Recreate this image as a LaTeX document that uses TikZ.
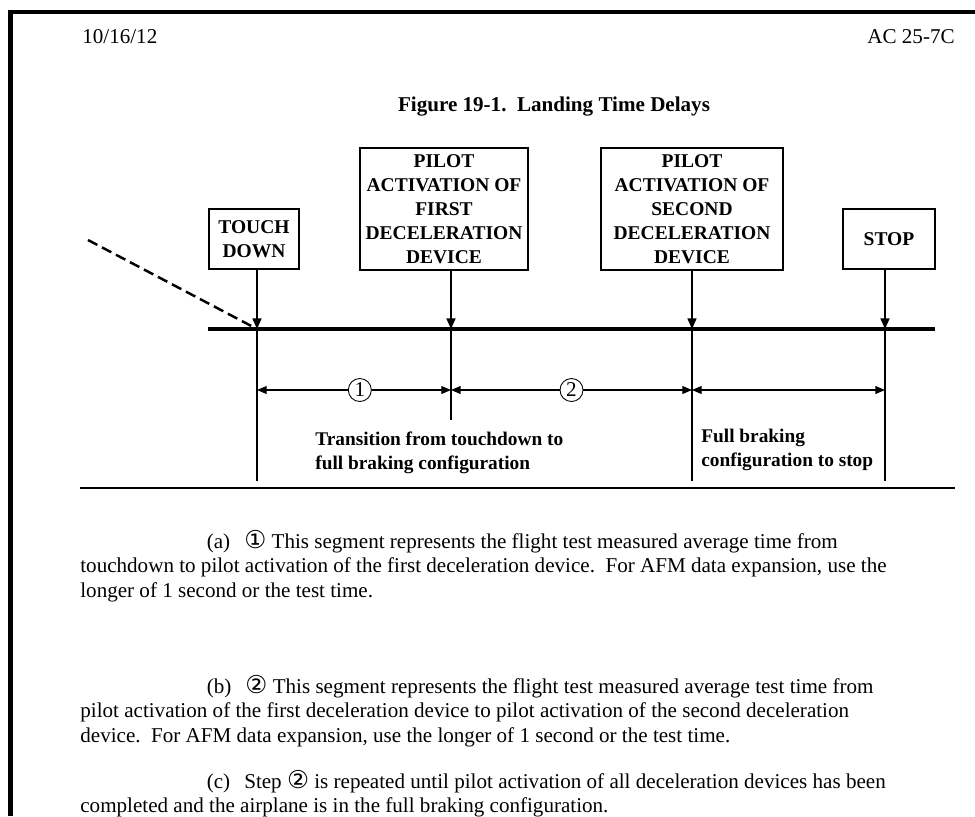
\documentclass[tikz,border=0pt]{standalone}
\usepackage{fontspec}
\setmainfont{Liberation Serif}
\newfontfamily\circfont{DejaVu Sans}
\usetikzlibrary{arrows.meta, positioning}

\newcommand{\circnum}[1]{\smash{\circfont\fontsize{14}{14}\selectfont #1}}

\tikzset{
  evtbox/.style={draw, line width=0.6pt, align=center, inner sep=0pt,
    font=\fontsize{11.1}{13.6}\selectfont\bfseries},
  droparrow/.style={line width=1.1pt, -{Triangle[length=6pt,width=5pt]}},
  dimline/.style={line width=0.6pt, {Triangle[length=5.5pt,width=4.5pt]}-{Triangle[length=5.5pt,width=4.5pt]}},
  numcirc/.style={circle, draw, line width=0.5pt, fill=white, inner sep=0pt,
    minimum size=0.46cm, font=\fontsize{12}{14}\selectfont},
  note/.style={align=left, inner sep=0pt, font=\fontsize{11}{13.6}\selectfont\bfseries},
  para/.style={align=left, inner sep=0pt, font=\fontsize{12}{14}\selectfont},
}

\begin{document}
\begin{tikzpicture}[x=0.02cm, y=-0.02cm]
  \useasboundingbox (0,0) rectangle (975,816);
  % page border
  \fill (8,10) rectangle (975,14);
  \fill (8,10) rectangle (13,816);

  % header and title
  \node[para, anchor=west] (date) at (82,37) {10/16/12};
  \node[para, anchor=east] (acnum) at (955,37) {AC 25-7C};
  \node[font=\fontsize{12}{14}\selectfont\bfseries] (title) at (554,107)
    {Figure 19-1.\ \ Landing Time Delays};

  % events
  \node[evtbox, minimum width=1.8cm, minimum height=1.2cm] (td) at (254,239) {TOUCH\\DOWN};
  \node[evtbox, minimum width=3.36cm, minimum height=2.44cm] (first) at (444,209)
    {PILOT\\ACTIVATION OF\\FIRST\\DECELERATION\\DEVICE};
  \node[evtbox, minimum width=3.64cm, minimum height=2.44cm] (second) at (692,209)
    {PILOT\\ACTIVATION OF\\SECOND\\DECELERATION\\DEVICE};
  \node[evtbox, minimum width=1.84cm, minimum height=1.2cm] (stop) at (889,239) {STOP};

  % time line
  \coordinate (lstart) at (208,329);
  \coordinate (lend) at (935,329);
  \coordinate (t1) at (257,329);
  \coordinate (t2) at (451,329);
  \coordinate (t3) at (692,329);
  \coordinate (t4) at (885,329);
  \coordinate (app) at (88,240);
  \draw[line width=2pt] (lstart) -- (lend);
  \draw[line width=1.4pt, dash pattern=on 6pt off 3pt] (app) -- (t1);
  \foreach \b/\t in {td/t1, first/t2, second/t3, stop/t4}
    \draw[droparrow] (\t |- \b.south) -- (\t);

  % drop lines
  \coordinate (b1) at (257,481);
  \coordinate (b2) at (451,420);
  \coordinate (b3) at (692,481);
  \coordinate (b4) at (885,481);
  \draw[line width=1.1pt] (t1) -- (b1);
  \draw[line width=0.7pt] (t2) -- (b2);
  \draw[line width=1.1pt] (t3) -- (b3);
  \draw[line width=1.1pt] (t4) -- (b4);

  % time segments
  \coordinate (d1) at (257,390);
  \coordinate (d2) at (451,390);
  \coordinate (d3) at (692,390);
  \coordinate (d4) at (885,390);
  \draw[dimline] (d1) -- node[numcirc, pos=0.53] (n1) {1} (d2);
  \draw[dimline] (d2) -- node[numcirc, pos=0.5] (n2) {2} (d3);
  \draw[dimline] (d3) -- (d4);

  \node[note, anchor=north west] (trans) at (315,432)
    {Transition from touchdown to\\full braking configuration};
  \node[note, anchor=north west] (brake) at (701,429)
    {Full braking\\configuration to stop};

  % separator
  \coordinate (sl) at (80,488);
  \coordinate (sr) at (955,488);
  \draw[line width=0.9pt] (sl) -- (sr);

  % notes below the figure
  \node[para, anchor=north west] (pa) at (80,533)
    {\hspace*{72pt}(a)\hspace{8pt}\circnum{①} This segment represents the flight test measured average time from\\
     touchdown to pilot activation of the first deceleration device.\ \ For AFM data expansion, use the\\
     longer of 1 second or the test time.};
  \node[para, anchor=north west] (pb) at (80,678)
    {\hspace*{72pt}(b)\hspace{8pt}\circnum{②} This segment represents the flight test measured average test time from\\
     pilot activation of the first deceleration device to pilot activation of the second deceleration\\
     device.\ \ For AFM data expansion, use the longer of 1 second or the test time.};
  \node[para, anchor=north west] (pc) at (80,773)
    {\hspace*{72pt}(c)\hspace{8pt}Step \circnum{②} is repeated until pilot activation of all deceleration devices has been\\
     completed and the airplane is in the full braking configuration.};
\end{tikzpicture}
\end{document}
